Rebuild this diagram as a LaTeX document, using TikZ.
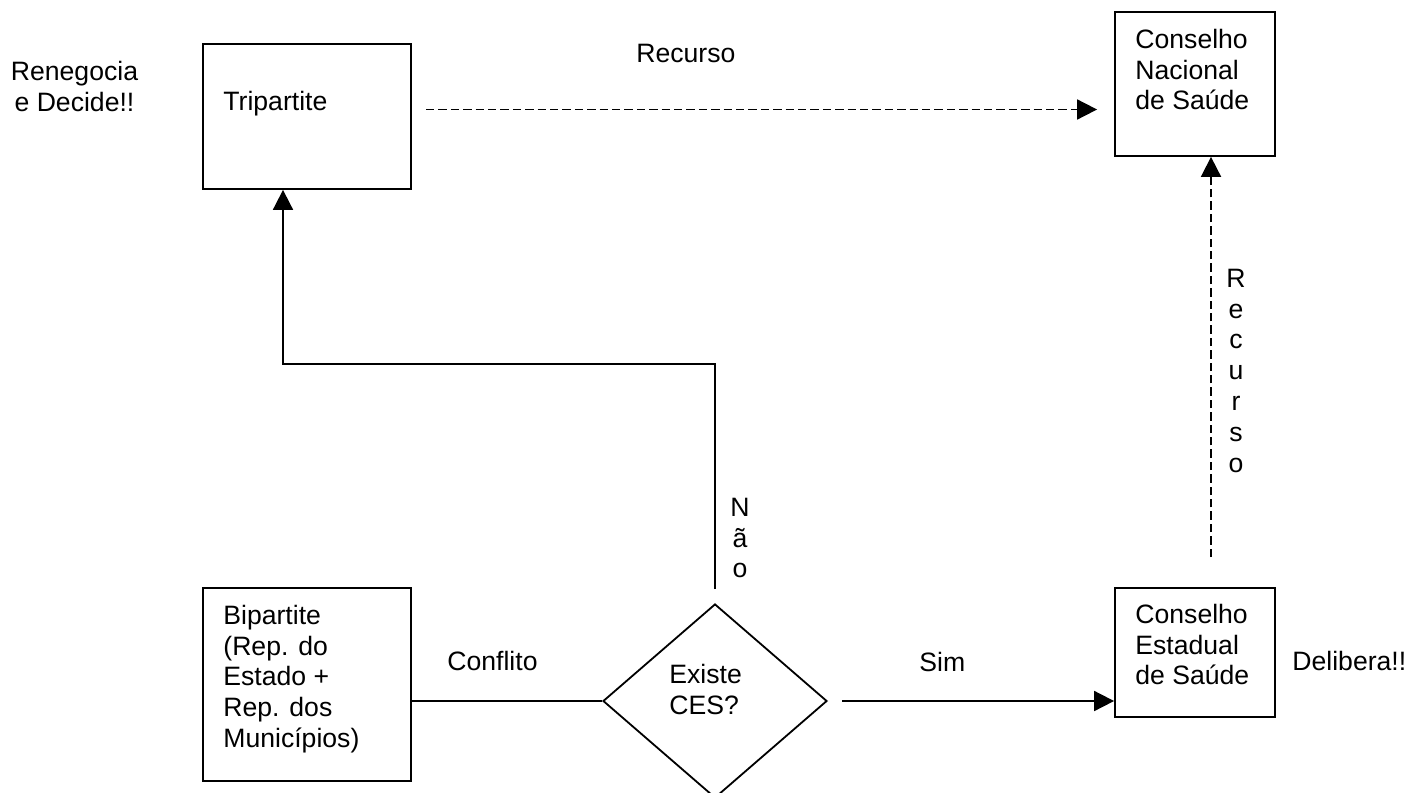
\documentclass[tikz,border=0pt]{standalone}
\usepackage{fontspec}
\setmainfont{Liberation Sans}
\usetikzlibrary{shapes.geometric,arrows.meta}
\begin{document}
\begin{tikzpicture}[x=0.5pt,y=-0.5pt,
  box/.style={draw,line width=0.9pt,inner sep=0pt},
  txt/.style={inner sep=0pt,font=\fontsize{13.3}{15.4}\selectfont},
  mtxt/.style={txt,align=left,anchor=north west},
  vtxt/.style={txt,align=center,anchor=north},
  conn/.style={line width=0.9pt},
  arr/.style={conn,-{Triangle[length=10pt,width=10pt]}},
  dsh/.style={dash pattern=on 4.2pt off 2pt}]
\useasboundingbox (0,0) rectangle (1407,792);
\clip (0,0) rectangle (1407,792);
\fill[white] (0,0) rectangle (1407,792);

% boxes
\node[box,minimum width=104pt,minimum height=72.5pt] (trip) at (307,116.5) {};
\node[box,minimum width=80pt,minimum height=72pt] (cns) at (1195,84) {};
\node[box,minimum width=104pt,minimum height=96.5pt] (bip) at (307,684.5) {};
\node[box,minimum width=80pt,minimum height=64.5pt] (ces) at (1195,652.5) {};
\node[draw,line width=0.9pt,diamond,inner sep=0pt,minimum width=112pt,minimum height=97pt] (dia) at (715,701) {};

% texts
\node[txt,align=center,anchor=north] (reneg) at (74.5,58.4) {\strut Renegocia\\e Decide!!};
\node[txt,anchor=base west] (triptxt) at (223,111) {Tripartite};
\node[txt,anchor=base west] (rec1) at (636,63) {Recurso};
\node[mtxt] (cnstxt) at (1135,26.4) {\strut Conselho\\Nacional\\de Saúde};
\node[mtxt] (biptxt) at (223,602.4) {\strut Bipartite\\(Rep. do\\Estado +\\Rep. dos\\Municípios)};
\node[txt,anchor=base west] (confl) at (447,670) {Conflito};
\node[mtxt] (diatxt) at (669,661.4) {\strut Existe\\CES?};
\node[txt,anchor=base west] (sim) at (919,671) {Sim};
\node[mtxt] (cestxt) at (1135,601.4) {\strut Conselho\\Estadual\\de Saúde};
\node[txt,anchor=base west] (delib) at (1292,670) {Delibera!!};
\node[vtxt] (nao) at (740,494.4) {\strut N\\ã\\o};
\node[vtxt] (rec2) at (1236,265.4) {\strut R\\e\\c\\u\\r\\s\\o};

% connectors
\coordinate (recstart) at (426,109.5);
\coordinate (vrecstart) at (1211,557);
\coordinate (naostart) at (715,589);
\coordinate (elbow) at (283,364);
\coordinate (simstart) at (842,701);

\draw[arr,dsh] (recstart) -- ([xshift=-8.5pt]cns.west |- recstart);
\draw[arr,dsh] (vrecstart) -- (vrecstart |- cns.south);
\draw[arr] (naostart) |- (elbow) -- (elbow |- trip.south);
\draw[conn] (bip.east |- dia.west) -- (dia.west);
\draw[arr] (simstart) -- (ces.west |- simstart);
\end{tikzpicture}
\end{document}
